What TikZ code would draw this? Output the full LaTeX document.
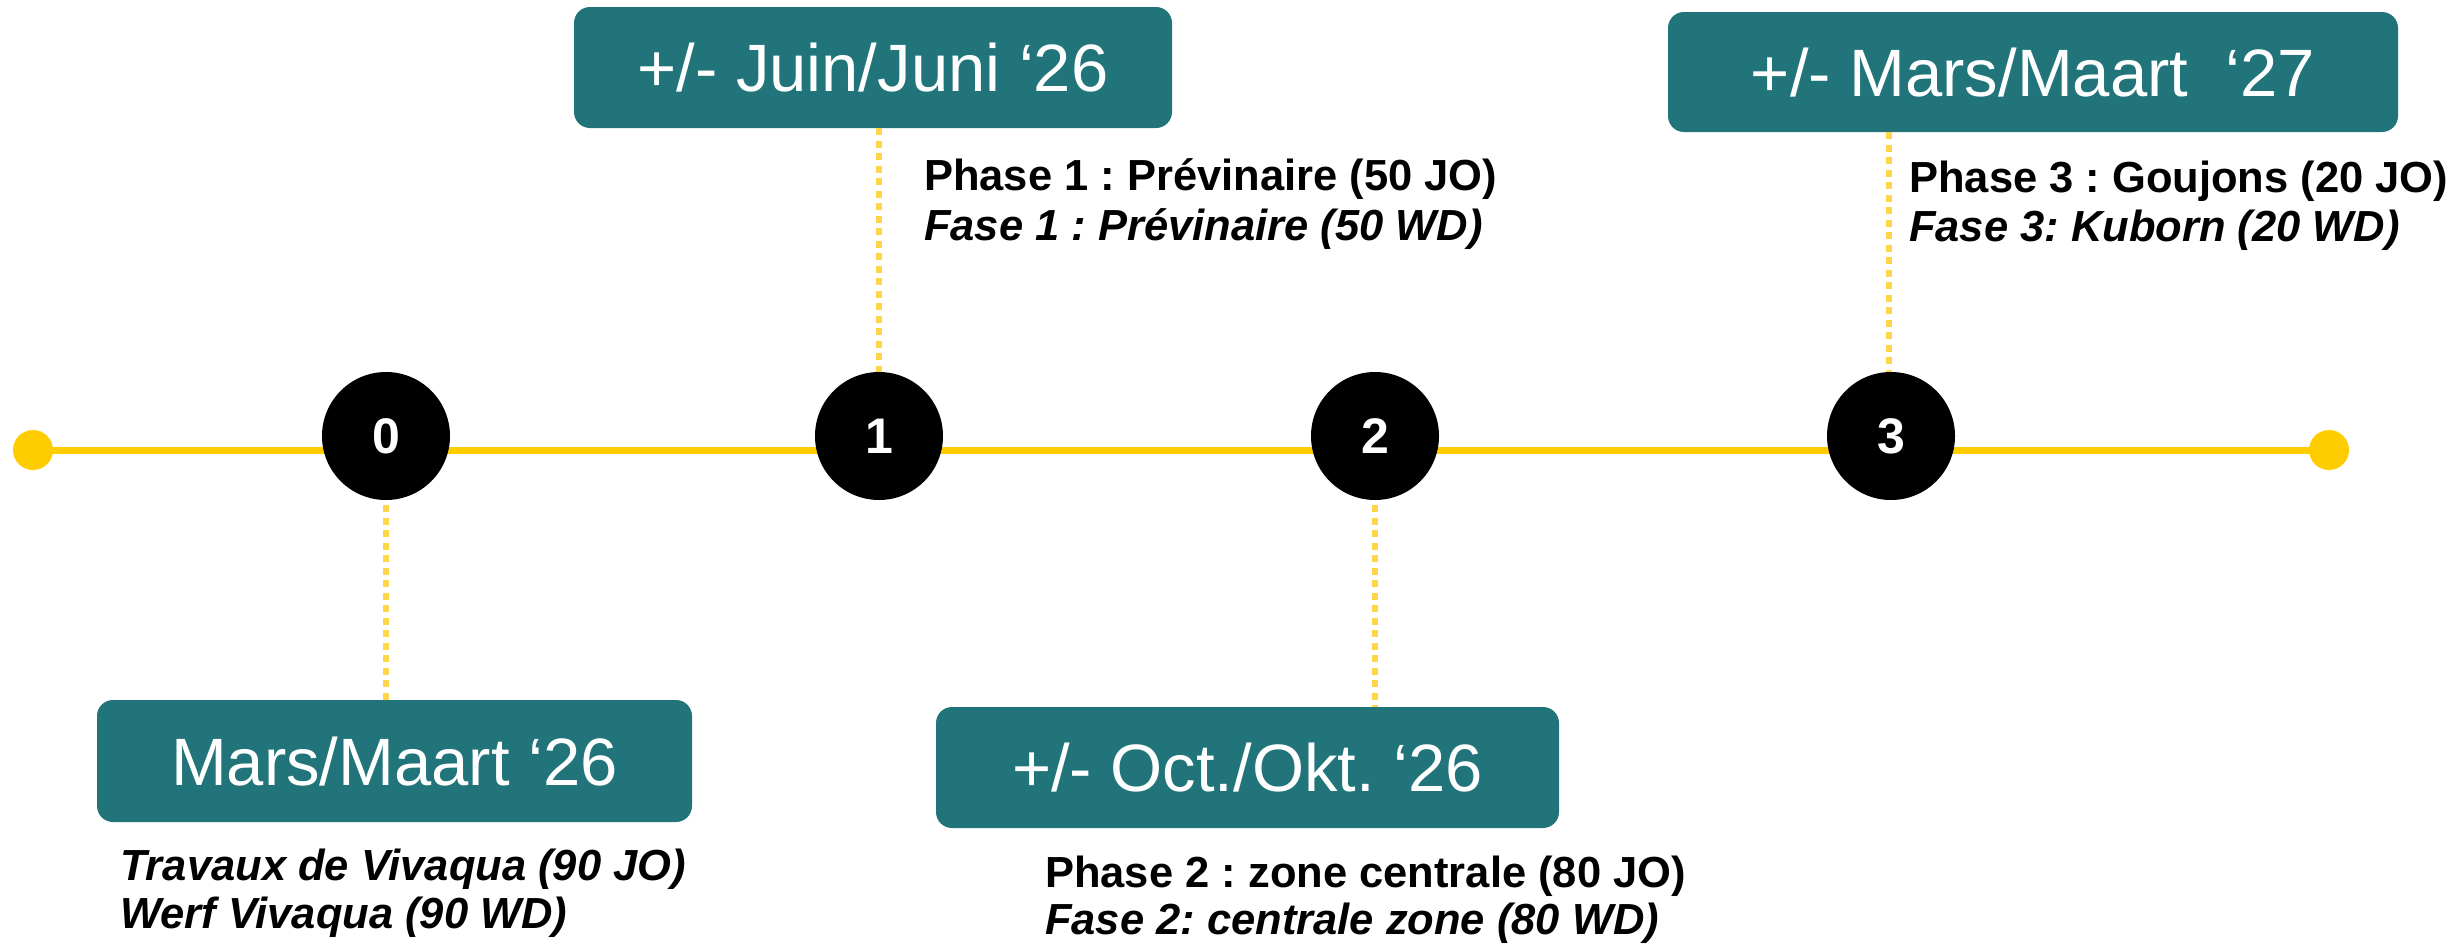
\documentclass[tikz,border=0pt]{standalone}
\usepackage{fontspec}
\setmainfont{Liberation Sans}
\frenchspacing
\definecolor{boxteal}{HTML}{20747A}
\definecolor{lineyellow}{HTML}{FFCC00}
\definecolor{dotyellow}{HTML}{FFD54A}
\tikzset{
  datebox/.style={fill=boxteal, rounded corners=16pt, text=white, inner sep=0pt,
    font=\fontsize{67}{80}\selectfont, text height=48pt, text depth=0pt},
  milestone/.style={circle, fill=black, minimum size=128pt, inner sep=0pt, text=white,
    font=\bfseries\fontsize{50}{56}\selectfont},
  enddot/.style={circle, fill=lineyellow, minimum size=40pt, inner sep=0pt},
  timeline/.style={draw=lineyellow, line width=7pt},
  leader/.style={draw=dotyellow, line width=6.5pt, dash pattern=on 7pt off 5.5pt},
  phase/.style={anchor=base west, inner sep=0pt, font=\bfseries\fontsize{43.5}{50}\selectfont},
  phasei/.style={anchor=base west, inner sep=0pt, font=\bfseries\itshape\fontsize{43.5}{50}\selectfont},
}
\begin{document}
\begin{tikzpicture}[x=1pt,y=-1pt]
\useasboundingbox (0,0) rectangle (2455,945);
% end dots and timeline
\node[enddot] (ldot) at (33,450) {};
\node[enddot] (rdot) at (2329,450) {};
\draw[timeline] (ldot.center) -- (rdot.center);
% milestones
\node[milestone] (c0) at (386,436) {0};
\node[milestone] (c1) at (879,436) {1};
\node[milestone] (c2) at (1375,436) {2};
\node[milestone] (c3) at (1891,436) {3};
% date boxes
\node[datebox, minimum width=595pt, minimum height=122pt] (b0) at (394.5,761) {Mars/Maart ‘26};
\node[datebox, minimum width=598pt, minimum height=121pt] (b1) at (873,67.5) {+/- Juin/Juni ‘26};
\node[datebox, minimum width=623pt, minimum height=121pt] (b2) at (1247.5,767.5) {+/- Oct./Okt. ‘26};
\node[datebox, minimum width=730pt, minimum height=120pt] (b3) at (2033,72) {+/- Mars/Maart\ \ ‘27};
% leaders
\draw[leader] ([yshift=-5pt]c0.south) -- (c0.south |- b0.north);
\draw[leader] (c1.north |- b1.south) -- (c1.north);
\draw[leader] ([yshift=-5pt]c2.south) -- (c2.south |- b2.north);
\draw[leader] ([xshift=-2pt]c3.north |- b3.south) -- ([xshift=-2pt]c3.north);
% phase texts
\node[phase]  (p1a) at (924,190) {Phase 1 : Prévinaire (50 JO)};
\node[phasei] (p1b) at (924,240) {Fase 1 : Prévinaire (50 WD)};
\node[phase]  (p3a) at (1909,192) {Phase 3 : Goujons (20 JO)};
\node[phasei] (p3b) at (1909,241) {Fase 3: Kuborn (20 WD)};
\node[phase]  (p2a) at (1045,887) {Phase 2 : zone centrale (80 JO)};
\node[phasei] (p2b) at (1045,934) {Fase 2: centrale zone (80 WD)};
\node[phasei] (p0a) at (120,880) {Travaux de Vivaqua (90 JO)};
\node[phasei] (p0b) at (120,928) {Werf Vivaqua (90 WD)};
\end{tikzpicture}
\end{document}
